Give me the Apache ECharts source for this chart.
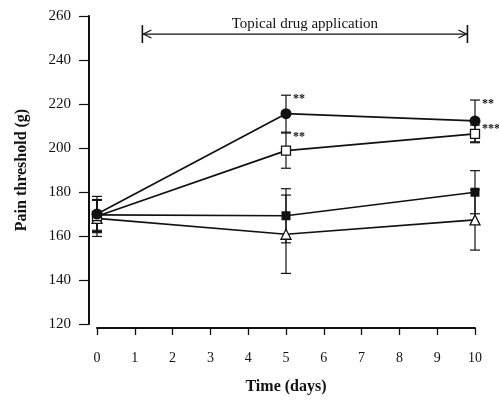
<!DOCTYPE html>
<html><head><meta charset="utf-8">
<script src="https://cdn.jsdelivr.net/npm/echarts@6/dist/echarts.min.js"></script>
<style>html,body{margin:0;padding:0;background:#fff}#c{width:499px;height:405px}</style>
</head><body><div id="c"></div>
<script>
var days = [0, 5, 10];
var xTicks = [0,1,2,3,4,5,6,7,8,9,10];
var yTicks = [120,140,160,180,200,220,240,260];
var filledCircle = [170, 215.6, 212.3];
var filledCircleErr = [8, 8.4, 9.5];
var openSquare = [169, 198.8, 206.4];
var openSquareErr = [7.5, 8, 4];
var filledSquare = [169.6, 169.2, 179.9];
var filledSquareErr = [7, 12.3, 9.8];
var openTriangle = [168, 160.8, 167.3];
var openTriangleErr = [8.2, 17.8, 13.7];
// significance marks: [series name, day index, text]
var starSeries = ['circle', 'square', 'circle', 'square'];
var starIdx = [1, 1, 2, 2];
var starText = ['**', '**', '**', '***'];
// treatment period annotation
var treatStart = 1.2, treatEnd = 9.8, treatLevel = 251.8;
var treatLabel = 'Topical drug application';

var FONT = '"Liberation Serif","DejaVu Serif",serif';
var seriesMap = {
  circle: [filledCircle, filledCircleErr],
  square: [openSquare, openSquareErr],
  fsquare: [filledSquare, filledSquareErr],
  triangle: [openTriangle, openTriangleErr]
};

function pairs(vals){ return days.map(function(d,i){return [d, vals[i]];}); }
function errData(vals, errs){ return days.map(function(d,i){return [d, vals[i]-errs[i], vals[i]+errs[i]];}); }

function errSeries(vals, errs){
  return {
    type:'custom', data: errData(vals, errs), z: 2,
    renderItem: function(params, api){
      var x = api.value(0);
      var lo = api.coord([x, api.value(1)]);
      var hi = api.coord([x, api.value(2)]);
      var w = 5;
      var st = {stroke:'#111', lineWidth:1.2};
      return {type:'group', children:[
        {type:'line', shape:{x1:lo[0],y1:lo[1],x2:hi[0],y2:hi[1]}, style:st},
        {type:'line', shape:{x1:lo[0]-w,y1:lo[1],x2:lo[0]+w,y2:lo[1]}, style:st},
        {type:'line', shape:{x1:hi[0]-w,y1:hi[1],x2:hi[0]+w,y2:hi[1]}, style:st}
      ]};
    }
  };
}
function lineSeries(vals, symbol, size, fill){
  return {
    type:'line', data: pairs(vals), symbol: symbol, symbolSize: size, showAllSymbol:true, z: 5,
    lineStyle:{color:'#111', width:1.7},
    itemStyle:{color: fill, borderColor:'#111', borderWidth: fill === '#fff' ? 1.3 : 0},
    emphasis:{disabled:true}, animation:false
  };
}

var starData = starSeries.map(function(s,i){
  var v = seriesMap[s][0][starIdx[i]] + seriesMap[s][1][starIdx[i]];
  return [days[starIdx[i]], v, starText[i]];
});

var option = {
  animation:false,
  grid:{left:97, right:24, top:16, bottom:81},
  xAxis:{
    type:'value', min:0, max:10, interval:1, offset:4,
    axisLine:{onZero:false, lineStyle:{color:'#111', width:2}},
    axisTick:{length:7, lineStyle:{color:'#111', width:1.3}},
    axisLabel:{color:'#111', fontFamily:FONT, fontSize:14, margin:23,
      formatter:function(v){ return xTicks.indexOf(v)>=0 ? String(v) : ''; }},
    splitLine:{show:false},
    name:'Time (days)', nameLocation:'middle', nameGap:51,
    nameTextStyle:{fontFamily:FONT, fontWeight:'bold', fontSize:16, color:'#111'}
  },
  yAxis:{
    type:'value', min:120, max:260, interval:20, offset:8,
    axisLine:{show:true, onZero:false, lineStyle:{color:'#111', width:2}},
    axisTick:{show:true, length:10, lineStyle:{color:'#111', width:1.2}},
    axisLabel:{color:'#111', fontFamily:FONT, fontSize:15, margin:18,
      formatter:function(v){ return yTicks.indexOf(v)>=0 ? String(v) : ''; }},
    splitLine:{show:false},
    name:'Pain threshold (g)', nameLocation:'middle', nameGap:59, nameRotate:90,
    nameTextStyle:{fontFamily:FONT, fontWeight:'bold', fontSize:16, color:'#111'}
  },
  series:[
    errSeries(filledCircle, filledCircleErr),
    errSeries(openSquare, openSquareErr),
    errSeries(filledSquare, filledSquareErr),
    errSeries(openTriangle, openTriangleErr),
    lineSeries(filledSquare, 'rect', 9, '#111'),
    lineSeries(openTriangle, 'triangle', 10, '#fff'),
    lineSeries(openSquare, 'rect', 9, '#fff'),
    lineSeries(filledCircle, 'circle', 11, '#111'),
    {
      type:'custom', data: starData, z: 6,
      renderItem:function(params, api){
        var p = api.coord([api.value(0), api.value(1)]);
        return {type:'text', x:p[0]+7, y:p[1]+4, style:{text: starText[params.dataIndex], fill:'#111',
          font:'bold 12px ' + FONT, textAlign:'left', textVerticalAlign:'middle'}};
      }
    },
    {
      type:'custom', data:[[treatStart, treatEnd, treatLevel]], z: 6,
      renderItem:function(params, api){
        var a = api.coord([api.value(0), api.value(2)]);
        var b = api.coord([api.value(1), api.value(2)]);
        var st = {stroke:'#111', lineWidth:1.2, fill:'none'};
        var h = 9;
        return {type:'group', children:[
          {type:'line', shape:{x1:a[0],y1:a[1],x2:b[0],y2:b[1]}, style:st},
          {type:'line', shape:{x1:a[0],y1:a[1]-h,x2:a[0],y2:a[1]+h}, style:{stroke:'#111', lineWidth:1.6}},
          {type:'line', shape:{x1:b[0],y1:b[1]-h,x2:b[0],y2:b[1]+h}, style:{stroke:'#111', lineWidth:1.6}},
          {type:'polyline', shape:{points:[[a[0]+9,a[1]-4],[a[0]+1,a[1]],[a[0]+9,a[1]+4]]}, style:st},
          {type:'polyline', shape:{points:[[b[0]-9,b[1]-4],[b[0]-1,b[1]],[b[0]-9,b[1]+4]]}, style:st},
          {type:'text', x:(a[0]+b[0])/2, y:a[1]-2, style:{text:treatLabel, fill:'#111',
            font:'15px ' + FONT, textAlign:'center', textVerticalAlign:'bottom'}}
        ]};
      }
    }
  ]
};
var chart = echarts.init(document.getElementById('c'), null, {renderer:'canvas'});
chart.setOption(option);
</script></body></html>
